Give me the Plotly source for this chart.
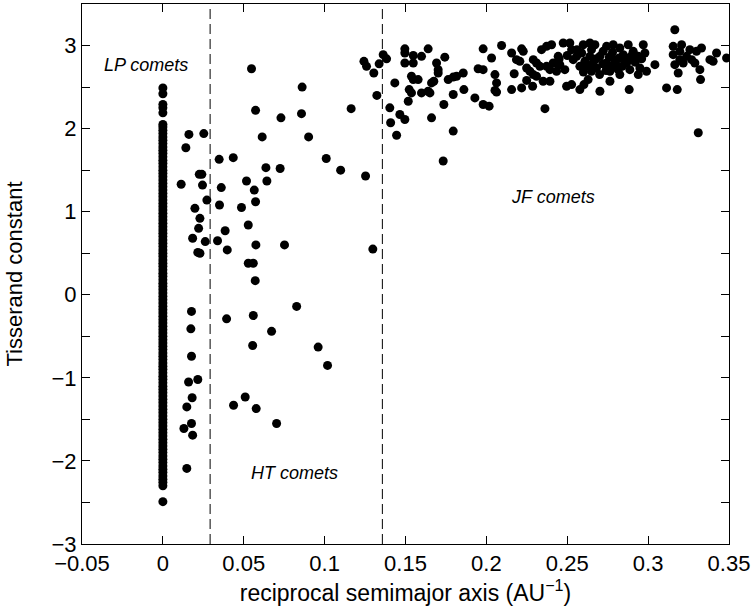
import plotly.graph_objects as go

# Long-period comets (parabolic-ish, 1/a ~ 0): Tisserand values
lp_T = [-2.49,
        -2.30, -2.26, -2.22, -2.18, -2.14, -2.10, -2.06, -2.02, -1.98, -1.94,
        -1.90, -1.86, -1.82, -1.78, -1.74, -1.70, -1.66, -1.62, -1.58, -1.54,
        -1.50, -1.46, -1.42, -1.38, -1.34, -1.30, -1.26, -1.22, -1.18, -1.14,
        -1.10, -1.06, -1.02, -0.98, -0.94, -0.90, -0.86, -0.82, -0.78, -0.74,
        -0.70, -0.66, -0.62, -0.58, -0.54, -0.50, -0.46, -0.42, -0.38, -0.34,
        -0.30, -0.26, -0.22, -0.18, -0.14, -0.10, -0.06, -0.02, 0.02, 0.06,
        0.10, 0.14, 0.18, 0.22, 0.26, 0.30, 0.34, 0.38, 0.42, 0.46,
        0.50, 0.54, 0.58, 0.62, 0.66, 0.70, 0.74, 0.78, 0.82, 0.86,
        0.90, 0.94, 0.98, 1.02, 1.06, 1.10, 1.14, 1.18, 1.22, 1.26,
        1.30, 1.34, 1.38, 1.42, 1.46, 1.50, 1.54, 1.58, 1.62, 1.66,
        1.70, 1.74, 1.78, 1.82, 1.86, 1.90, 1.94, 1.98, 2.02, 2.05,
        2.19, 2.25, 2.29, 2.42, 2.49]
lp_inv_a = [0.0] * len(lp_T)

# Halley-type region comets (1/a between ~0.01 and ~0.135)
ht_inv_a = [0.0548, 0.0161, 0.0253, 0.0142, 0.0113, 0.0225, 0.0241, 0.0245, 0.0198, 0.0272,
            0.0229, 0.0221, 0.0184, 0.0262, 0.0216, 0.0229, 0.0348, 0.0435, 0.0361, 0.0350,
            0.0385, 0.0338, 0.0398, 0.0486, 0.0517, 0.0565, 0.0573, 0.0528, 0.0575, 0.0528,
            0.0559, 0.0571, 0.0573, 0.0614, 0.0637, 0.0643, 0.0730, 0.0725, 0.0752, 0.0861,
            0.0857, 0.0901, 0.1010, 0.1099, 0.1164, 0.1253, 0.1298, 0.1243, 0.1259, 0.1304,
            0.1323, 0.1337,
            0.0177, 0.0173, 0.0177, 0.0159, 0.0216, 0.0181, 0.0148, 0.0177, 0.0130, 0.0184,
            0.0148, 0.0394, 0.0559, 0.0827, 0.0672, 0.0555, 0.0960, 0.1018, 0.0437, 0.0509,
            0.0577, 0.0703]
ht_T = [2.72, 1.93, 1.94, 1.77, 1.33, 1.45, 1.45, 1.32, 1.04, 1.14,
        0.92, 0.80, 0.68, 0.64, 0.51, 0.50, 1.63, 1.65, 1.29, 1.08,
        0.77, 0.65, 0.54, 1.05, 1.37, 1.26, 1.12, 0.84, 0.60, 0.38,
        0.38, 0.17, 2.22, 1.90, 1.53, 1.37, 2.13, 1.52, 0.60, 2.50,
        2.18, 1.90, 1.64, 1.50, 2.24, 1.43, 0.55, 2.81, 2.75, 2.67,
        2.40, 2.78,
        -0.20, -0.41, -0.74, -1.05, -1.02, -1.24, -1.35, -1.55, -1.61, -1.69,
        -2.09, -0.29, -0.25, -0.14, -0.44, -0.61, -0.63, -0.85, -1.33, -1.23,
        -1.37, -1.55]

# Jupiter-family region comets
jf_inv_a = [0.1362, 0.1383, 0.1434, 0.1403, 0.1465, 0.1496, 0.1408, 0.1445, 0.1496, 0.1496,
            0.1496, 0.1548, 0.1548, 0.1599, 0.1640, 0.1537, 0.1548, 0.1578, 0.1523, 0.1537,
            0.1517, 0.1599, 0.1640, 0.1651, 0.1661, 0.1692, 0.1702, 0.1702, 0.1675, 0.1661,
            0.1743, 0.1764, 0.1795, 0.1816, 0.1795, 0.1857, 0.1861, 0.1733, 0.1737, 0.1795,
            0.1929, 0.1949, 0.1980, 0.1980, 0.1980, 0.2017, 0.2032, 0.2053, 0.2063, 0.2053,
            0.2063, 0.2094, 0.2156, 0.2172, 0.2156, 0.2218, 0.2186, 0.2207, 0.2218, 0.2228,
            0.2249, 0.2269, 0.2249, 0.2286, 0.2290, 0.2310, 0.2331, 0.2290, 0.2310, 0.2341,
            0.2372, 0.2403, 0.2351, 0.2393, 0.2362, 0.2372, 0.2393, 0.2413, 0.2434, 0.2454,
            0.2444, 0.2475, 0.2516, 0.2527, 0.2485, 0.2496, 0.2527, 0.2537, 0.2558, 0.2589,
            0.2578, 0.2609, 0.2578, 0.2599, 0.2640, 0.2671, 0.2629, 0.2603, 0.2640, 0.2660,
            0.2681, 0.2650, 0.2702, 0.2722, 0.2702, 0.2743, 0.2784, 0.2825, 0.2743, 0.2774,
            0.2764, 0.2794, 0.2764, 0.2825, 0.2815, 0.2846, 0.2867, 0.2877, 0.2908, 0.2887,
            0.2918, 0.2939, 0.2949, 0.2883, 0.2939, 0.2970, 0.2980, 0.2990, 0.3042, 0.3114,
            0.3180, 0.3165, 0.3155, 0.3207, 0.3196, 0.3155, 0.3165, 0.3196, 0.3186, 0.3217,
            0.3238, 0.3269, 0.3289, 0.3258, 0.3299, 0.3330, 0.3320, 0.3324, 0.3382, 0.3423,
            0.3402, 0.3485, 0.3310,
            0.2620, 0.2680, 0.2720, 0.2760, 0.2800, 0.2840, 0.2880, 0.2700, 0.2740, 0.2860,
            0.2900, 0.2650, 0.2780, 0.2820, 0.2560, 0.2500, 0.2450, 0.2600, 0.2960, 0.2920]
jf_T = [2.89, 2.84, 2.55, 2.25, 2.17, 2.11, 2.07, 1.92, 2.96, 2.91,
        2.79, 2.88, 2.79, 2.87, 2.96, 2.63, 2.59, 2.59, 2.47, 2.43,
        2.33, 2.43, 2.45, 2.43, 2.13, 2.79, 2.71, 2.67, 2.57, 2.55,
        2.86, 2.59, 2.62, 2.63, 2.41, 2.67, 2.47, 1.61, 2.29, 1.97,
        2.37, 2.72, 2.71, 2.96, 2.29, 2.27, 2.85, 2.65, 2.55, 2.46,
        2.44, 3.00, 2.91, 2.66, 2.47, 2.49, 2.83, 2.81, 2.96, 2.93,
        2.73, 2.69, 2.58, 2.51, 2.83, 2.79, 2.75, 2.65, 2.63, 2.95,
        2.99, 3.01, 2.57, 2.57, 2.24, 2.75, 2.71, 2.79, 2.69, 2.77,
        2.87, 3.03, 3.03, 2.95, 2.71, 2.51, 2.53, 2.83, 2.87, 2.91,
        2.75, 2.81, 2.47, 3.01, 3.03, 3.01, 2.59, 2.53, 2.87, 2.79,
        2.73, 2.69, 2.87, 2.93, 2.45, 2.99, 3.01, 2.97, 2.79, 2.75,
        2.69, 2.83, 2.57, 2.65, 2.71, 2.89, 2.79, 3.01, 2.93, 2.71,
        2.81, 2.87, 2.73, 2.47, 2.65, 3.01, 2.91, 2.69, 2.77, 2.49,
        2.47, 3.19, 2.99, 3.01, 2.93, 2.89, 2.77, 2.83, 2.67, 2.79,
        2.87, 2.83, 2.79, 2.95, 2.93, 2.97, 2.71, 2.59, 2.83, 2.91,
        2.81, 2.85, 1.95,
        2.75, 2.84, 2.78, 2.86, 2.78, 2.75, 2.85, 2.65, 2.70, 2.80,
        2.88, 2.95, 2.92, 2.85, 2.95, 2.88, 2.84, 2.68, 2.84, 2.80]

# Boundaries (period 200 yr and 20 yr)
boundaries = [0.0292, 0.1357]

# Region labels
label_text = ["LP comets", "HT comets", "JF comets"]
label_x = [-0.0102, 0.0816, 0.2409]
label_y = [2.77, -2.14, 1.18]

x_ticks = [-0.05, 0, 0.05, 0.1, 0.15, 0.2, 0.25, 0.3, 0.35]
x_ticktext = ["\u22120.05", "0", "0.05", "0.1", "0.15", "0.2", "0.25", "0.3", "0.35"]
y_ticks = [-3, -2, -1, 0, 1, 2, 3]
y_ticktext = ["\u22123", "\u22122", "\u22121", "0", "1", "2", "3"]

FONT = "Liberation Sans, Arial, Helvetica, sans-serif"
mk = dict(color="black", size=9, line=dict(width=0))

fig = go.Figure()
for xs, ys in [(lp_inv_a, lp_T), (ht_inv_a, ht_T), (jf_inv_a, jf_T)]:
    fig.add_trace(go.Scatter(x=xs, y=ys, mode="markers", marker=mk,
                             showlegend=False, hoverinfo="skip"))

for b in boundaries:
    fig.add_shape(type="line", xref="x", yref="paper", x0=b, x1=b, y0=0, y1=1,
                  line=dict(color="black", width=1, dash="10px,5px"))

for t, lx, ly in zip(label_text, label_x, label_y):
    fig.add_annotation(x=lx, y=ly, xref="x", yref="y", text="<i>" + t + "</i>",
                       showarrow=False, font=dict(family=FONT, size=18, color="black"))

axis_common = dict(showgrid=False, zeroline=False, showline=True, linecolor="black",
                   linewidth=1, mirror="ticks", ticks="inside", ticklen=8,
                   tickcolor="black", tickwidth=1,
                   tickfont=dict(family=FONT, size=22, color="black"))

fig.update_layout(
    width=754, height=610,
    margin=dict(l=82, r=25, t=4, b=66),
    paper_bgcolor="white", plot_bgcolor="white",
    xaxis=dict(range=[-0.05, 0.35], tickmode="array", tickvals=x_ticks, ticktext=x_ticktext,
               title=dict(text="reciprocal semimajor axis (AU<sup>\u22121</sup>)",
                          font=dict(family=FONT, size=23, color="black"), standoff=6),
               **axis_common),
    yaxis=dict(range=[-3, 3.5], tickmode="array", tickvals=y_ticks, ticktext=y_ticktext,
               minor=dict(dtick=0.5, tick0=0, ticks="inside", ticklen=8,
                          tickcolor="black", tickwidth=1, showgrid=False),
               title=dict(text="Tisserand constant",
                          font=dict(family=FONT, size=22, color="black"), standoff=22),
               **axis_common),
)

fig.write_html("out.html")
